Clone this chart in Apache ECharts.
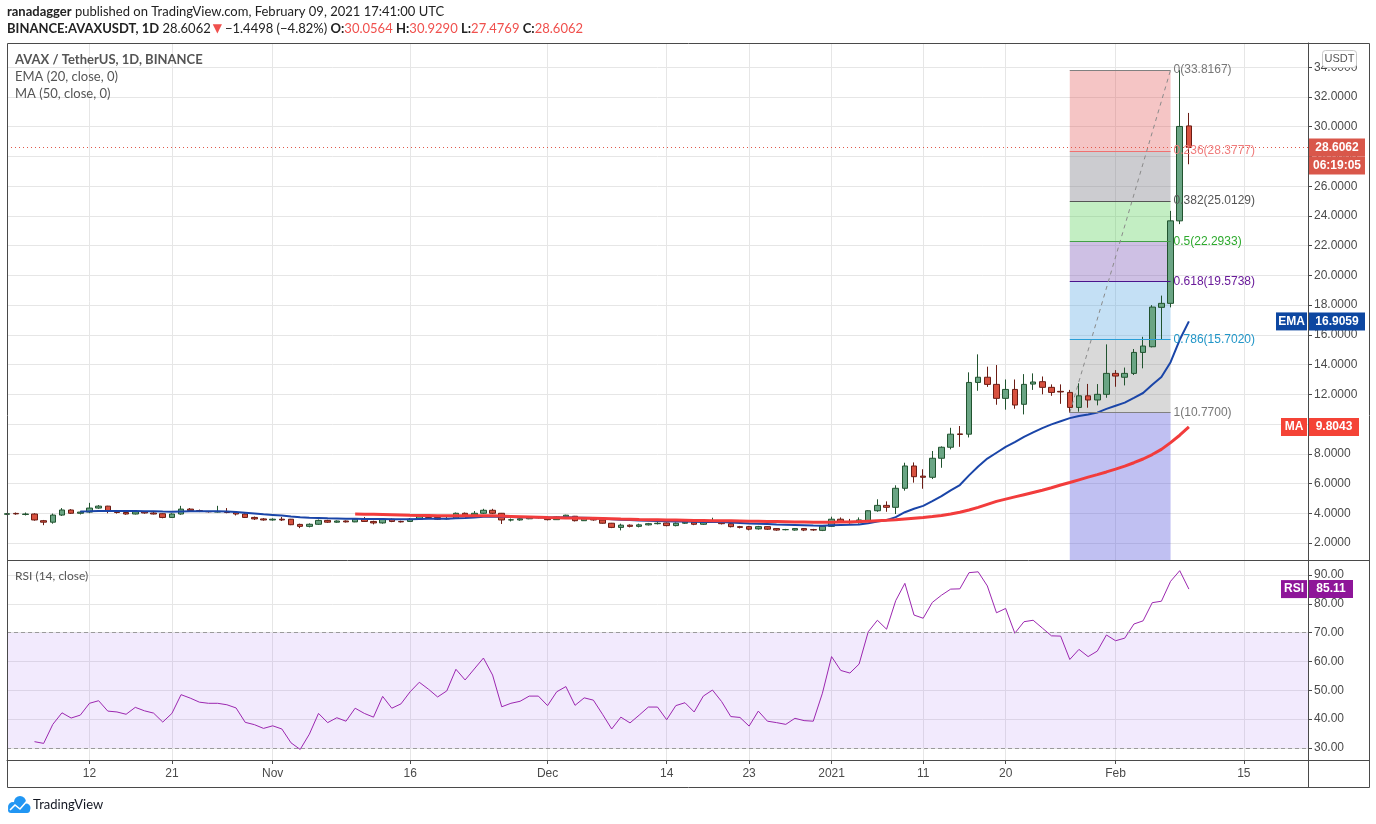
<!DOCTYPE html>
<html><head><meta charset="utf-8">
<script src="https://cdn.jsdelivr.net/npm/echarts@6.0.0/dist/echarts.min.js"></script>
<style>html,body{margin:0;padding:0;background:#fff}#chart{width:1376px;height:824px}</style>
</head><body><div id="chart"></div>
<script>
// ---------- DATA ----------
const firstDay = '2020-10-03', lastAxisDay = '2021-02-22';
const tickDates = ['2020-10-12','2020-10-21','2020-11-01','2020-11-16','2020-12-01','2020-12-14','2020-12-23','2021-01-01','2021-01-11','2021-01-20','2021-02-01','2021-02-15'];
const tickLabels = ['12','21','Nov','16','Dec','14','23','2021','11','20','Feb','15'];
const priceTicks = [2,4,6,8,10,12,14,16,18,20,22,24,26,28,30,32,34];
const rsiTicks = [30,40,50,60,70,80,90];

const openP = [
3.93,3.99,3.92,3.95,3.50,3.40,3.88,4.22,4.00,4.08,4.35,4.48,4.15,4.05,3.95,4.10,4.02,3.97,3.72,3.95,4.28,4.18,4.12,4.08,4.12,4.05,3.95,3.72,3.62,
3.55,3.60,3.60,3.25,3.12,3.26,3.52,3.40,3.48,3.42,3.60,3.45,3.35,3.60,3.45,3.45,3.60,3.80,3.72,3.62,3.66,4.00,3.88,4.00,4.20,4.00,3.55,3.55,3.63,3.72,
3.72,3.57,3.75,3.80,3.50,3.66,3.55,3.33,3.05,3.20,3.12,3.22,3.30,3.35,3.17,3.33,3.40,3.26,3.43,3.43,3.30,3.10,3.10,2.95,3.10,2.97,2.90,2.87,2.97,2.90,2.85,
3.12,3.60,3.45,3.38,3.50,4.17,4.53,4.40,5.68,7.18,6.50,6.42,7.70,8.44,9.34,9.32,12.80,13.15,12.67,11.73,12.33,11.33,12.69,12.85,12.47,12.20,12.13,11.12,11.90,11.62,12.00,
13.41,13.15,13.41,14.82,15.20,17.85,18.12,23.67,30.0564];
const closeP = [
3.97,3.96,3.95,3.55,3.40,3.88,4.22,4.00,4.08,4.35,4.48,4.15,4.05,3.95,4.10,4.02,3.95,3.72,3.95,4.28,4.18,4.12,4.10,4.12,4.05,3.95,3.72,3.62,3.55,
3.60,3.55,3.23,3.12,3.26,3.52,3.40,3.48,3.42,3.60,3.45,3.35,3.60,3.45,3.42,3.60,3.80,3.72,3.60,3.65,4.00,3.88,4.00,4.20,4.00,3.55,3.56,3.63,3.72,3.70,
3.57,3.75,3.87,3.50,3.66,3.55,3.33,3.05,3.20,3.12,3.22,3.30,3.33,3.17,3.33,3.40,3.26,3.43,3.44,3.30,3.10,3.05,2.93,3.10,2.93,2.87,2.90,2.97,2.87,2.88,3.12,
3.60,3.43,3.37,3.55,4.17,4.53,4.40,5.68,7.18,6.46,6.42,7.70,8.44,9.32,9.30,12.80,13.15,12.67,11.73,12.33,11.28,12.67,12.83,12.47,12.13,12.16,11.12,11.90,11.62,12.00,13.41,
13.23,13.41,14.82,15.25,17.87,18.12,23.67,30.02,28.6062];
const lowP = [
3.88,3.90,3.85,3.50,3.20,3.30,3.82,3.95,3.92,4.00,4.30,4.00,3.98,3.90,3.92,3.97,3.92,3.66,3.68,3.90,4.10,4.08,4.05,4.05,4.00,3.85,3.68,3.55,3.50,
3.50,3.48,3.20,3.00,3.05,3.22,3.35,3.36,3.38,3.40,3.42,3.25,3.30,3.40,3.38,3.42,3.58,3.65,3.55,3.58,3.62,3.80,3.84,3.95,3.95,3.28,3.45,3.50,3.60,3.65,
3.52,3.55,3.70,3.45,3.48,3.50,3.30,3.00,2.85,3.05,3.05,3.18,3.25,3.12,3.12,3.28,3.20,3.22,3.38,3.25,3.05,2.98,2.85,2.90,2.88,2.82,2.85,2.83,2.80,2.82,2.80,
3.08,3.35,3.30,3.30,3.45,4.10,4.10,3.95,5.52,6.06,5.65,6.30,7.06,8.30,8.47,9.10,12.24,12.50,11.30,10.97,11.03,10.65,12.30,12.00,11.90,11.36,10.77,10.83,11.10,11.26,11.77,
12.51,12.60,13.30,13.75,15.16,15.70,17.85,23.45,27.4769];
const highP = [
4.02,4.05,4.05,4.00,3.55,3.98,4.35,4.28,4.15,4.70,4.55,4.50,4.22,4.12,4.15,4.15,4.10,4.00,4.00,4.50,4.35,4.25,4.15,4.50,4.35,4.10,4.00,3.78,3.68,
3.66,3.75,3.62,3.30,3.32,3.58,3.56,3.52,3.52,3.65,3.75,3.50,3.65,3.65,3.50,3.68,3.85,3.85,3.78,3.85,4.05,4.05,4.15,4.30,4.30,4.02,3.65,3.68,3.78,3.80,
3.78,3.80,3.90,3.82,3.70,3.70,3.60,3.35,3.30,3.25,3.30,3.35,3.40,3.38,3.38,3.45,3.45,3.48,3.70,3.48,3.35,3.15,3.15,3.15,3.12,3.00,2.95,3.00,3.00,2.95,3.20,
3.77,3.72,3.62,3.72,4.20,4.94,4.80,5.88,7.40,7.42,6.96,8.19,8.50,9.75,9.87,13.48,14.69,13.86,13.97,13.00,13.00,13.36,13.41,13.20,12.67,12.67,12.30,12.74,12.70,12.69,15.36,
13.63,13.80,15.05,15.87,18.00,18.64,24.34,33.8167,30.929];

const ema20 = [null,null,null,null,null,null,null,null,
4.12,4.13,4.15,4.16,4.16,4.15,4.15,4.14,4.14,4.12,4.11,4.12,4.13,4.13,4.13,4.13,4.12,4.08,4.03,3.98,3.93,
3.89,3.85,3.79,3.74,3.70,3.68,3.66,3.65,3.63,3.63,3.62,3.61,3.61,3.60,3.60,3.60,3.62,3.63,3.63,3.63,3.67,3.69,3.72,3.76,3.78,3.76,3.75,3.74,3.73,3.73,
3.71,3.72,3.73,3.71,3.70,3.68,3.65,3.60,3.57,3.54,3.52,3.50,3.48,3.46,3.45,3.44,3.43,3.42,3.42,3.41,3.38,3.35,3.32,3.30,3.28,3.25,3.23,3.21,3.19,3.17,3.16,
3.19,3.21,3.22,3.25,3.33,3.44,3.53,3.74,4.07,4.30,4.50,4.81,5.15,5.54,5.90,6.55,7.15,7.68,8.07,8.46,8.78,9.14,9.44,9.73,9.98,10.19,10.40,10.54,10.64,10.77,11.02,
11.23,11.44,11.76,12.09,12.64,13.16,14.16,15.67,16.9059];

const ma50 = [null,null,null,null,null,null,null,null,null,null,null,null,null,null,null,null,null,null,null,null,null,null,null,null,null,null,null,null,null,
null,null,null,null,null,null,null,null,null,
3.95,3.94,3.93,3.92,3.90,3.88,3.86,3.85,3.85,3.84,3.84,3.84,3.84,3.84,3.84,3.83,3.81,3.79,3.77,3.75,3.73,
3.71,3.70,3.69,3.68,3.67,3.66,3.65,3.63,3.61,3.60,3.58,3.57,3.56,3.55,3.54,3.53,3.52,3.51,3.50,3.50,3.49,3.48,3.47,3.46,3.45,3.44,3.43,3.42,3.41,3.40,3.39,
3.40,3.41,3.42,3.44,3.47,3.50,3.53,3.57,3.62,3.67,3.72,3.78,3.85,3.95,4.07,4.22,4.40,4.60,4.80,4.95,5.10,5.25,5.40,5.55,5.72,5.90,6.07,6.25,6.43,6.60,6.78,
6.97,7.17,7.40,7.65,7.95,8.30,8.75,9.25,9.8043];

const rsi14 = [null,null,null,
32.2,31.6,38.2,42.2,40.4,41.4,45.5,46.4,42.8,42.5,41.7,44.1,42.9,42.1,39.0,42.0,48.5,47.3,45.9,45.5,45.5,45.0,43.9,38.9,38.1,36.8,
37.7,36.6,31.8,29.5,34.8,42.0,38.8,40.5,39.3,43.8,42.0,40.7,47.9,43.8,45.3,49.5,52.8,50.4,47.7,49.8,57.3,53.6,57.4,61.2,55.3,44.3,45.5,46.2,48.0,48.0,
44.7,49.5,51.3,44.8,47.4,46.6,41.7,36.6,40.7,38.7,41.4,44.2,44.2,39.8,44.7,45.7,42.5,48.0,50.1,46.1,40.9,40.6,37.6,42.8,39.3,38.8,38.2,40.3,39.5,39.3,49.0,
61.7,56.9,56.0,59.1,70.3,74.3,71.2,81.1,87.1,76.1,75.0,80.5,83.0,85.1,85.2,90.8,91.1,86.2,76.9,78.4,69.8,73.8,74.3,71.6,68.9,68.8,60.7,64.2,61.7,63.6,69.2,
67.2,68.1,73.0,74.1,80.4,80.9,87.8,91.5,85.11];

const fibStart = '2021-01-27', fibEnd = '2021-02-07';
const fibLevels = ['0','0.236','0.382','0.5','0.618','0.786','1'];
const fibPrices = [33.8167,28.3777,25.0129,22.2933,19.5738,15.7020,10.7700];

const lastClose = 28.6062, emaLast = 16.9059, maLast = 9.8043, rsiLast = 85.11;
const headerOHLC = {O:'30.0564', H:'30.9290', L:'27.4769', C:'28.6062'};

// ---------- CATEGORIES ----------
const categories = [];
for (let d = new Date(firstDay + 'T00:00:00Z'); d <= new Date(lastAxisDay + 'T00:00:00Z'); d.setUTCDate(d.getUTCDate() + 1)) {
  categories.push(d.toISOString().slice(0, 10));
}
const candleData = openP.map((o, i) => [o, closeP[i], lowP[i], highP[i]]);

// ---------- STYLE ----------
const priceMin = 0.8565, priceMax = 35.633;
const rsiMin = 25.84, rsiMax = 95.2;
const gridColor = '#e6e6e6';
const frameColor = '#4a4a4a';
const axisFont = 'Liberation Sans, Arial, sans-serif';
const isTick = (idx, val) => tickDates.indexOf(val) >= 0;

const zoneColors = ['rgba(225,80,80,0.33)','rgba(120,120,132,0.38)','rgba(80,205,80,0.34)','rgba(120,80,180,0.36)','rgba(70,160,225,0.32)','rgba(128,128,128,0.30)','rgba(80,80,220,0.36)'];
const lineColors = ['#808080','#f07070','#555555','#43a047','#4a148c','#2a9fd8','#808080'];
const labelColors = ['#777777','#f07c7c','#555555','#2eaa2e','#6a1b9a','#2196c8','#777777'];

const zones = [];
for (let i = 0; i < fibPrices.length; i++) {
  const bottom = i < fibPrices.length - 1 ? fibPrices[i + 1] : priceMin;
  zones.push([{coord: [fibStart, fibPrices[i]], itemStyle: {color: zoneColors[i]}}, {coord: [fibEnd, bottom]}]);
}
const fibLines = fibPrices.map((p, i) => [
  {coord: [fibStart, p], lineStyle: {color: lineColors[i], width: 1, type: 'solid'},
   label: {show: true, position: 'end', distance: 3, formatter: fibLevels[i] + '(' + p.toFixed(4) + ')', color: labelColors[i], fontSize: 12, fontFamily: axisFont}},
  {coord: [fibEnd, p]}
]);
fibLines.push([
  {coord: [fibStart, fibPrices[6]], lineStyle: {color: '#8a8a8a', width: 1, type: [4, 4]}, label: {show: false}},
  {coord: [fibEnd, fibPrices[0]]}
]);

const xAxisBase = {
  type: 'category', data: categories, boundaryGap: false,
  splitLine: {show: true, interval: isTick, lineStyle: {color: gridColor, width: 1}}
};

const option = {
  animation: false,
  backgroundColor: '#ffffff',
  grid: [
    {left: 7, right: 68, top: 43, height: 517},
    {left: 7, right: 68, top: 560, height: 200}
  ],
  xAxis: [
    Object.assign({}, xAxisBase, {gridIndex: 0, axisLine: {show: false}, axisTick: {show: false}, axisLabel: {show: false}}),
    Object.assign({}, xAxisBase, {gridIndex: 1,
      axisLine: {show: true, lineStyle: {color: frameColor}},
      axisTick: {show: true, interval: isTick, length: 4, lineStyle: {color: frameColor}},
      axisLabel: {show: true, interval: isTick, margin: 8, color: '#4a4a4a', fontSize: 12, fontFamily: axisFont,
        formatter: v => tickLabels[tickDates.indexOf(v)]}})
  ],
  yAxis: [
    {type: 'value', gridIndex: 0, position: 'right', min: priceMin, max: priceMax,
     axisLine: {show: true, lineStyle: {color: frameColor}},
     axisTick: {show: true, length: 4, customValues: priceTicks, lineStyle: {color: frameColor}},
     axisLabel: {customValues: priceTicks, formatter: v => v.toFixed(4), color: '#4a4a4a', fontSize: 12, margin: 6, fontFamily: axisFont},
     splitLine: {show: true, lineStyle: {color: gridColor}}},
    {type: 'value', gridIndex: 1, position: 'right', min: rsiMin, max: rsiMax,
     axisLine: {show: true, lineStyle: {color: frameColor}},
     axisTick: {show: true, length: 4, customValues: rsiTicks, lineStyle: {color: frameColor}},
     axisLabel: {customValues: rsiTicks, formatter: v => v.toFixed(2), color: '#4a4a4a', fontSize: 12, margin: 6, fontFamily: axisFont},
     splitLine: {show: true, lineStyle: {color: gridColor}}}
  ],
  series: [
    {type: 'line', name: 'fib', xAxisIndex: 0, yAxisIndex: 0, data: [], z: 1, silent: true,
     markArea: {silent: true, data: zones},
     markLine: {silent: true, symbol: ['none', 'none'], data: fibLines}},
    {type: 'candlestick', name: 'AVAXUSDT', xAxisIndex: 0, yAxisIndex: 0, data: candleData, z: 3,
     barWidth: '66%',
     itemStyle: {color: '#6aa584', color0: '#d8513f', borderColor: '#21532f', borderColor0: '#6b1c14', borderWidth: 1},
     markLine: {silent: true, symbol: ['none', 'none'], label: {show: false},
       lineStyle: {color: '#e0574a', type: [1, 3], width: 1}, data: [{yAxis: lastClose}]}},
    {type: 'line', name: 'EMA', xAxisIndex: 0, yAxisIndex: 0, data: ema20, z: 4, symbol: 'none', silent: true,
     lineStyle: {color: '#1a45a8', width: 2}},
    {type: 'line', name: 'MA', xAxisIndex: 0, yAxisIndex: 0, data: ma50, z: 5, symbol: 'none', silent: true,
     lineStyle: {color: '#f23c3c', width: 3}},
    {type: 'line', name: 'RSI', xAxisIndex: 1, yAxisIndex: 1, data: rsi14, z: 4, symbol: 'none', silent: true,
     lineStyle: {color: '#9c27b0', width: 1},
     markArea: {silent: true, itemStyle: {color: 'rgba(150,80,235,0.12)'}, data: [[{yAxis: 30}, {yAxis: 70}]]},
     markLine: {silent: true, symbol: ['none', 'none'], label: {show: false},
       lineStyle: {color: '#9a9a9a', type: [4, 3], width: 1}, data: [{yAxis: 30}, {yAxis: 70}]}}
  ]
};

const chart = echarts.init(document.getElementById('chart'), null, {renderer: 'canvas'});
chart.setOption(option);

// ---------- OVERLAY TEXT / LABELS ----------
const py = chart.convertToPixel({yAxisIndex: 0}, lastClose);
const ey = chart.convertToPixel({yAxisIndex: 0}, emaLast);
const my = chart.convertToPixel({yAxisIndex: 0}, maLast);
const ry = chart.convertToPixel({yAxisIndex: 1}, rsiLast);
const txtFont = 'Lato, "Open Sans", sans-serif';

function tag(x, y, w, h, fill, text) {
  return [
    {type: 'rect', z: 200, shape: {x: x, y: y - h / 2, width: w, height: h}, style: {fill: fill}},
    {type: 'text', z: 201, style: {x: x + w / 2, y: y, text: text, fill: '#ffffff', align: 'center', verticalAlign: 'middle',
      font: 'bold 12px ' + axisFont}}
  ];
}

const graphics = [
  // frame
  {type: 'rect', z: 90, shape: {x: 7.5, y: 43.5, width: 1362, height: 744}, style: {fill: 'none', stroke: frameColor, lineWidth: 1}},
  {type: 'line', z: 90, shape: {x1: 1308.5, y1: 43, x2: 1308.5, y2: 787}, style: {stroke: frameColor, lineWidth: 1}},
  {type: 'line', z: 90, shape: {x1: 7, y1: 560.5, x2: 1369, y2: 560.5}, style: {stroke: frameColor, lineWidth: 1}},
  {type: 'line', z: 90, shape: {x1: 7, y1: 760.5, x2: 1369, y2: 760.5}, style: {stroke: frameColor, lineWidth: 1}},
  // header
  {type: 'text', z: 100, style: {x: 7, y: 12, verticalAlign: 'middle', text: '{b|ranadagger} published on TradingView.com, February 09, 2021 17:41:00 UTC',
    font: '13px ' + txtFont, fill: '#222',
    rich: {b: {fontWeight: 'bold', fontSize: 13, fontFamily: txtFont, fill: '#222'}}}},
  {type: 'text', z: 100, style: {x: 7, y: 29, verticalAlign: 'middle',
    text: '{b|BINANCE:AVAXUSDT, 1D} 28.6062{r|▼}−1.4498 (−4.82%) {b|O:}{v|' + headerOHLC.O + '} {b|H:}{v|' + headerOHLC.H + '} {b|L:}{v|' + headerOHLC.L + '} {b|C:}{v|' + headerOHLC.C + '}',
    font: '13px ' + txtFont, fill: '#222',
    rich: {b: {fontWeight: 'bold', fontSize: 13, fontFamily: txtFont, fill: '#222'},
           r: {fontSize: 12, fontFamily: 'DejaVu Sans, sans-serif', fill: '#f0504d', padding: [0, 3, 0, 2]},
           v: {fontSize: 13, fontFamily: txtFont, fill: '#f0504d'}}}},
  // legend in chart
  {type: 'text', z: 100, style: {x: 15, y: 60, verticalAlign: 'middle', text: 'AVAX / TetherUS, 1D, BINANCE', font: 'bold 13px ' + txtFont, fill: '#555'}},
  {type: 'text', z: 100, style: {x: 15, y: 77, verticalAlign: 'middle', text: 'EMA (20, close, 0)', font: '13px ' + txtFont, fill: '#555'}},
  {type: 'text', z: 100, style: {x: 15, y: 94, verticalAlign: 'middle', text: 'MA (50, close, 0)', font: '13px ' + txtFont, fill: '#555'}},
  {type: 'text', z: 100, style: {x: 15, y: 576, verticalAlign: 'middle', text: 'RSI (14, close)', font: '12px ' + txtFont, fill: '#555'}},
  // USDT box
  {type: 'rect', z: 200, shape: {x: 1322.5, y: 50.5, width: 34, height: 17, r: 3}, style: {fill: '#fff', stroke: '#c8c8c8', lineWidth: 1}},
  {type: 'text', z: 201, style: {x: 1339.5, y: 59, text: 'USDT', align: 'center', verticalAlign: 'middle', font: '11px ' + axisFont, fill: '#555'}}
].concat(
  tag(1309, py, 56, 18, '#d9574a', lastClose.toFixed(4)),
  tag(1309, py + 18, 56, 18, '#d9574a', '06:19:05'),
  tag(1276, ey, 31, 18, '#0d47a1', 'EMA'),
  tag(1309, ey, 56, 18, '#0d47a1', emaLast.toFixed(4)),
  tag(1281, my, 26, 18, '#f44336', 'MA'),
  tag(1309, my, 50, 18, '#f44336', maLast.toFixed(4)),
  tag(1281, ry, 26, 18, '#8e1599', 'RSI'),
  tag(1309, ry, 44, 18, '#8e1599', rsiLast.toFixed(2)),
  [
    // TradingView logo
    {type: 'circle', z: 100, shape: {cx: 13, cy: 807, r: 5}, style: {fill: '#2196f3'}},
    {type: 'circle', z: 100, shape: {cx: 20, cy: 802, r: 6}, style: {fill: '#2196f3'}},
    {type: 'circle', z: 100, shape: {cx: 26, cy: 808, r: 4.5}, style: {fill: '#2196f3'}},
    {type: 'rect', z: 100, shape: {x: 8, y: 807, width: 22, height: 6, r: 3}, style: {fill: '#2196f3'}},
    {type: 'polyline', z: 101, shape: {points: [[10, 810], [15, 805], [20, 809], [27, 801]]}, style: {stroke: '#fff', lineWidth: 1.6, fill: 'none'}},
    {type: 'text', z: 100, style: {x: 33, y: 805, verticalAlign: 'middle', text: 'TradingView', font: '13px ' + txtFont, fill: '#131722'}}
  ]
);
chart.setOption({graphic: graphics});
</script>
</body></html>
